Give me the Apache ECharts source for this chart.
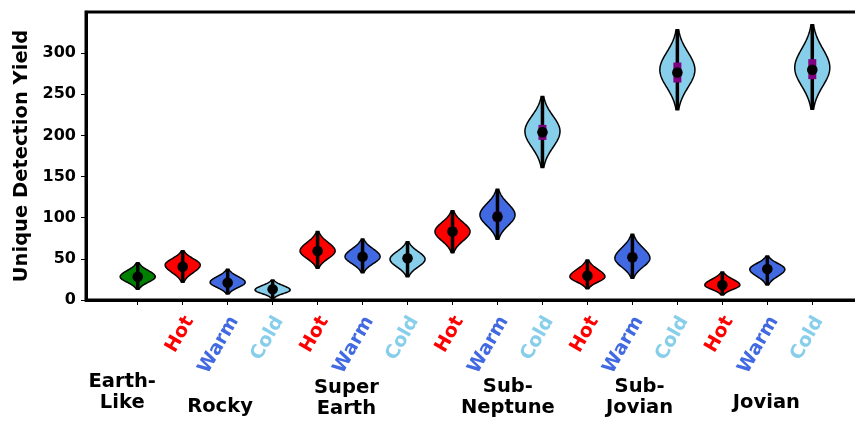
<!DOCTYPE html>
<html>
<head>
<meta charset="utf-8">
<script src="https://cdn.jsdelivr.net/npm/echarts@6/dist/echarts.min.js"></script>
<style>
  html, body { margin: 0; padding: 0; background: #fff; overflow: hidden; }
  #chart { width: 870px; height: 422px; }
</style>
</head>
<body>
<div id="chart"></div>
<script>
// Planet classes and their temperature sub-bins (one violin each)
const classOf = [0, 1, 1, 1, 2, 2, 2, 3, 3, 3, 4, 4, 4, 5, 5, 5];
const tempOf  = ['', 'Hot', 'Warm', 'Cold', 'Hot', 'Warm', 'Cold', 'Hot', 'Warm', 'Cold',
                 'Hot', 'Warm', 'Cold', 'Hot', 'Warm', 'Cold'];
const classNames = ['Earth-\nLike', 'Rocky', 'Super\nEarth', 'Sub-\nNeptune', 'Sub-\nJovian', 'Jovian'];

// Yield distribution summaries per violin
const yieldMin    = [13.0, 21.5,  7.3,  2.1, 38.6, 33.2, 28.3,  57.5,  73.8, 160.9, 13.7, 26.4, 231.1,  6.1, 18.2, 231.9];
const yieldMax    = [45.4, 60.0, 37.3, 24.3, 83.1, 74.2, 70.9, 108.6, 134.6, 247.3, 48.6, 79.9, 328.4, 34.1, 53.5, 334.5];
const yieldMedian = [28.3, 40.5, 21.0, 13.0, 59.6, 52.7, 50.7,  83.1, 101.3, 204.0, 29.6, 51.9, 276.5, 18.2, 37.7, 279.7];
const yieldQ1     = [25.0, 36.5, 18.0, 10.5, 55.0, 48.5, 46.5,  78.0,  95.2, 194.6, 26.0, 46.5, 264.3, 15.5, 34.0, 268.4];
const yieldQ3     = [32.0, 44.5, 24.0, 15.5, 64.0, 57.0, 55.0,  88.5, 107.4, 212.8, 33.5, 57.5, 288.6, 21.0, 41.5, 292.7];
const yieldMode   = [28.3, 42.6, 21.5, 12.2, 59.6, 52.7, 49.5,  83.1, 103.4, 205.0, 28.3, 50.7, 279.7, 18.2, 37.3, 282.2];

// Y-axis tick values
const yTicks = [0, 50, 100, 150, 200, 250, 300];

// Styling
const FONT = 'DejaVu Sans';
const tempColor = { Hot: '#ff0000', Warm: '#4169e1', Cold: '#87ceeb' };
const earthColor = '#008000';
const VIOLIN_HALF = 0.39;      // half width in category units
const TAIL = 2.6;              // tail sharpness of the density outline

// Class label placement (x in category units, y in pixels)
const classLabelX = [-0.344, 1.83, 4.64, 8.23, 11.16, 13.98];
const classLabelY = [392, 407, 398, 397.5, 397.5, 403];

const chart = echarts.init(document.getElementById('chart'), null, { renderer: 'canvas' });

const violinData = yieldMin.map((_, i) => [i, yieldMin[i], yieldMax[i], yieldMedian[i], yieldQ1[i], yieldQ3[i], yieldMode[i]]);

function renderViolin(params, api) {
  const i = params.dataIndex;
  const x = api.value(0), lo = api.value(1), hi = api.value(2);
  const med = api.value(3), q1 = api.value(4), q3 = api.value(5), mode = api.value(6);
  const halfW = api.size([VIOLIN_HALF, 0])[0];
  const cx = api.coord([x, 0])[0];
  const steps = 60;
  const left = [], right = [];
  for (let s = 0; s <= steps; s++) {
    const v = lo + (hi - lo) * s / steps;
    const t = v <= mode ? (mode - v) / (mode - lo) : (v - mode) / (hi - mode);
    const w = halfW * Math.exp(-TAIL * t * t);
    const py = api.coord([x, v])[1];
    left.push([cx - w, py]);
    right.unshift([cx + w, py]);
  }
  const color = i === 0 ? earthColor : tempColor[tempOf[i]];
  const pLo = api.coord([x, lo])[1], pHi = api.coord([x, hi])[1];
  const pQ1 = api.coord([x, q1])[1], pQ3 = api.coord([x, q3])[1];
  const pMed = api.coord([x, med])[1];
  return {
    type: 'group',
    children: [
      { type: 'polygon', shape: { points: left.concat(right) },
        style: { fill: color, stroke: '#000', lineWidth: 1.5 } },
      { type: 'line', shape: { x1: cx, y1: pLo, x2: cx, y2: pHi },
        style: { stroke: '#000', lineWidth: 3.5 } },
      { type: 'line', shape: { x1: cx, y1: pQ1, x2: cx, y2: pQ3 },
        style: { stroke: '#800080', lineWidth: 8 } },
      { type: 'circle', shape: { cx: cx, cy: pMed, r: 5.3 },
        style: { fill: '#000' } }
    ]
  };
}

const tickIdx = tempOf.map((_, i) => i);
const labelIdx = tickIdx.filter(i => tempOf[i] !== '').map(i => i + 0.15);

const richTemp = { fontFamily: FONT, fontWeight: 'bold', fontSize: 19 };

chart.setOption({
  animation: false,
  backgroundColor: '#fff',
  grid: { left: 86, right: 6, top: 12, bottom: 122, show: true, borderColor: '#000', borderWidth: 3 },
  xAxis: {
    type: 'value', min: -1.15, max: 16.15,
    axisLine: { show: true, onZero: false, lineStyle: { color: '#000', width: 3 } },
    axisTick: { show: true, customValues: tickIdx, length: 5, lineStyle: { color: '#000', width: 1 } },
    splitLine: { show: false },
    axisLabel: {
      customValues: labelIdx,
      rotate: 60, margin: 18,
      fontFamily: FONT, fontWeight: 'bold', fontSize: 19,
      formatter: v => { const t = tempOf[Math.round(v)]; return '{' + t.toLowerCase() + '|' + t + '}'; },
      rich: {
        hot:  Object.assign({ color: tempColor.Hot }, richTemp),
        warm: Object.assign({ color: tempColor.Warm }, richTemp),
        cold: Object.assign({ color: tempColor.Cold }, richTemp)
      }
    }
  },
  yAxis: {
    type: 'value', min: 0, max: 350,
    name: 'Unique Detection Yield', nameLocation: 'middle', nameGap: 53,
    nameTextStyle: { fontFamily: FONT, fontWeight: 'bold', fontSize: 19.5, color: '#000' },
    axisLine: { show: true, onZero: false, lineStyle: { color: '#000', width: 3 } },
    axisTick: { show: true, customValues: yTicks, length: 5, lineStyle: { color: '#000', width: 1 } },
    axisLabel: { customValues: yTicks, margin: 10, fontFamily: FONT, fontWeight: 'bold', fontSize: 16, color: '#000' },
    splitLine: { show: false }
  },
  series: [{
    type: 'custom',
    renderItem: renderViolin,
    data: violinData,
    encode: { x: 0, y: [1, 2] },
    clip: false
  }]
});

// Planet-class labels beneath the temperature labels
chart.setOption({
  graphic: classNames.map((name, k) => ({
    type: 'text',
    x: chart.convertToPixel({ xAxisIndex: 0 }, classLabelX[k]),
    y: classLabelY[k],
    style: {
      text: name, fill: '#000',
      font: 'bold 19.5px "' + FONT + '"',
      textAlign: 'center', textVerticalAlign: 'middle', lineHeight: 21
    }
  }))
});
</script>
</body>
</html>
